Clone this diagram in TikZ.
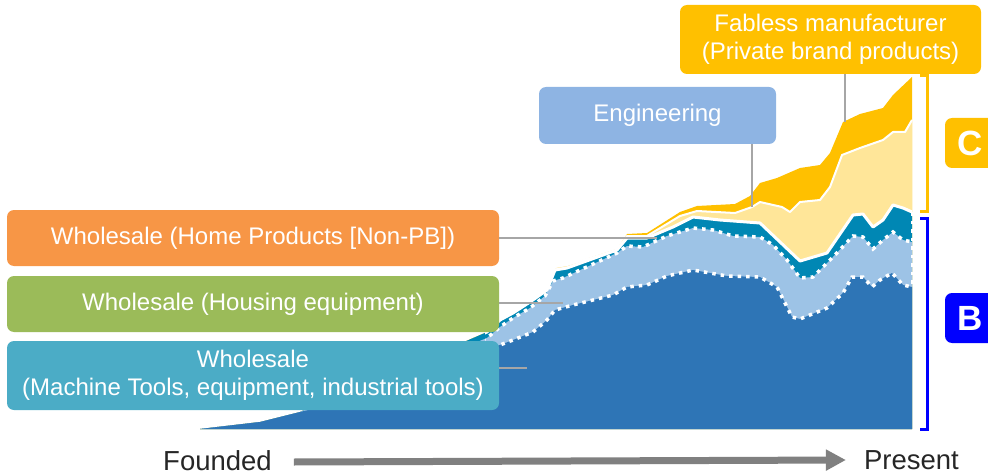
\documentclass[tikz,border=0pt]{standalone}
\usepackage{fontspec}
\setmainfont{Liberation Sans}
\usetikzlibrary{arrows.meta}

\definecolor{fablessgold}{HTML}{FFC000}
\definecolor{enginyellow}{HTML}{FFE699}
\definecolor{nonpbteal}{HTML}{0087B4}
\definecolor{housingblue}{HTML}{9DC3E6}
\definecolor{machineblue}{HTML}{2E75B6}
\definecolor{boxorange}{HTML}{F79646}
\definecolor{boxgreen}{HTML}{9BBB59}
\definecolor{boxteal}{HTML}{4BACC6}
\definecolor{boxengin}{HTML}{8EB4E3}
\definecolor{leadergray}{HTML}{A6A6A6}
\definecolor{arrowgray}{HTML}{808080}
\definecolor{textdark}{HTML}{262626}

\newcommand{\BaseY}{429}
\newcommand{\EndX}{912}

% top edges of the stacked layers
\newcommand{\GoldTop}{(200,429) -- (260,422) -- (300,412) -- (350,387) -- (400,368) -- (450,348) -- (487,332) -- (500,320) -- (513,313) -- (530,302) -- (547,290) -- (555,267) -- (567,265) -- (617,249) -- (627,234) -- (647,233) -- (680,212) -- (697,206) -- (735,204) -- (750,196) -- (760,183) -- (777,178) -- (800,168) -- (820,165) -- (830,153) -- (843,122) -- (860,114) -- (883,108) -- (893,95) -- (912,77)}
\newcommand{\EnginTop}{(200,429) -- (260,422) -- (300,412) -- (350,387) -- (400,368) -- (450,348) -- (487,332) -- (500,320) -- (513,313) -- (530,302) -- (547,290) -- (555,267) -- (567,265) -- (617,250) -- (627,236) -- (647,236) -- (680,216) -- (697,211) -- (735,213) -- (752,207) -- (760,202) -- (782,207) -- (790,212) -- (800,202) -- (820,200) -- (830,187) -- (842,155) -- (860,148) -- (883,140) -- (893,132) -- (905,132) -- (912,120)}
\newcommand{\NonPBTop}{(200,429) -- (260,422) -- (300,412) -- (350,387) -- (400,368) -- (450,348) -- (487,332) -- (500,320) -- (513,313) -- (530,302) -- (547,290) -- (555,270) -- (567,268) -- (617,250) -- (627,238) -- (647,238) -- (673,227) -- (693,217) -- (720,220) -- (760,223) -- (800,261) -- (827,253) -- (853,215) -- (863,214) -- (873,227) -- (883,220) -- (893,205) -- (903,208) -- (912,212)}
\newcommand{\HousingTop}{(200,429) -- (260,422) -- (300,412) -- (350,390) -- (400,372) -- (450,353) -- (487,338) -- (500,327) -- (513,318) -- (530,308) -- (545,296) -- (553,281) -- (563,278) -- (617,253) -- (627,246) -- (643,247) -- (667,236) -- (693,228) -- (713,230) -- (733,236) -- (760,237) -- (773,245) -- (787,260) -- (800,278) -- (813,277) -- (833,257) -- (853,236) -- (863,237) -- (873,249) -- (883,240) -- (893,232) -- (903,240) -- (912,242)}
\newcommand{\MachineTop}{(200,429) -- (260,422) -- (300,412) -- (350,400) -- (400,384) -- (450,365) -- (490,348) -- (500,345) -- (513,340) -- (533,332) -- (547,320) -- (555,310) -- (573,305) -- (613,295) -- (627,287) -- (647,285) -- (667,276) -- (693,270) -- (727,276) -- (760,277) -- (777,287) -- (785,303) -- (792,317) -- (800,319) -- (827,308) -- (843,293) -- (852,277) -- (863,277) -- (872,287) -- (880,280) -- (892,273) -- (903,285) -- (912,287)}

\tikzset{
  segbox/.style={rounded corners=7pt, inner sep=0pt, text=white, align=center,
    font=\fontsize{24}{28.5}\selectfont},
  groupbox/.style={rounded corners=7pt, inner sep=0pt, text=white,
    minimum width=50pt, minimum height=50pt, font=\bfseries\fontsize{35}{35}\selectfont},
  leader/.style={draw=leadergray, line width=1.2pt},
  sepline/.style={draw=white, line width=3pt, line join=round},
  dotline/.style={draw=white, line width=3.5pt, dash pattern=on 3.5pt off 5pt},
  bracket/.style={line width=3pt},
  timetext/.style={inner sep=0pt, text=textdark, font=\fontsize{27.5}{30}\selectfont},
  timeline/.style={draw=arrowgray, line width=7pt, -{Triangle[length=20pt,width=20pt]}}
}

\begin{document}
\begin{tikzpicture}[x=1pt,y=-1pt]
        \useasboundingbox (0,0) rectangle (988,476);
        \clip (0,0) rectangle (988,476);

        \fill[fablessgold] \GoldTop -- (\EndX,\BaseY) -- cycle;% Fabless
        \fill[enginyellow] \EnginTop -- (\EndX,\BaseY) -- cycle;% Engineering
        \fill[nonpbteal] \NonPBTop -- (\EndX,\BaseY) -- cycle;% Home products
        \fill[housingblue] \HousingTop -- (\EndX,\BaseY) -- cycle;% Housing
        \fill[machineblue] \MachineTop -- (\EndX,\BaseY) -- cycle;% Machine tools

        \begin{scope}
            \clip (485,60) rectangle (914,432);
            \draw[sepline, line width=2pt] \EnginTop;
            \draw[sepline] \NonPBTop;
            \draw[dotline] \HousingTop;
            \draw[dotline] \MachineTop;
            \draw[dotline, line width=2.5pt] (\EndX,212) -- (\EndX,287);
        \end{scope}

        \node[segbox, fill=fablessgold, minimum width=301pt, minimum height=69pt] (fabless) at (830.5,39.5) {Fabless manufacturer\\(Private brand products)};
        \node[segbox, fill=boxengin, minimum width=237pt, minimum height=57pt] (engineering) at (657.5,115.5) {Engineering};
        \node[segbox, fill=boxorange, minimum width=492pt, minimum height=56pt] (nonpb) at (253,238) {Wholesale (Home Products [Non-PB])};
        \node[segbox, fill=boxgreen, minimum width=492pt, minimum height=56pt] (housing) at (253,304) {Wholesale (Housing equipment)};
        \node[segbox, fill=boxteal, minimum width=492pt, minimum height=69pt] (machine) at (253,375.5) {Wholesale\\(Machine Tools, equipment, industrial tools)};

        \coordinate (fabend) at (845,122);
        \coordinate (engend) at (752,207);
        \coordinate (nonpbend) at (657,238);
        \coordinate (housingend) at (563,303);
        \coordinate (machineend) at (527,368);

        \draw[leader] (fabless.south -| fabend) -- (fabend);
        \draw[leader] (engineering.south -| engend) -- (engend);
        \draw[leader] (nonpb.east) -- (nonpbend);
        \draw[leader] (housing.east |- housingend) -- (housingend);
        \draw[leader] (machine.east |- machineend) -- (machineend);

        \draw[bracket, fablessgold] (920,76) -- (927,76) -- (927,211) -- (920,211);% C bracket
        \draw[bracket, blue] (920,218) -- (927,218) -- (927,429) -- (920,429);% B bracket
        \node[groupbox, fill=fablessgold] (groupc) at (970,143) {C};
        \node[groupbox, fill=blue] (groupb) at (970,318) {B};

        \node[timetext] (founded) at (217.5,461) {Founded};
        \node[timetext] (present) at (911.5,460) {Present};
        \draw[timeline] ([xshift=22pt,yshift=-1pt]founded.east) -- ([xshift=-18pt]present.west);
    \end{tikzpicture}
\end{document}
